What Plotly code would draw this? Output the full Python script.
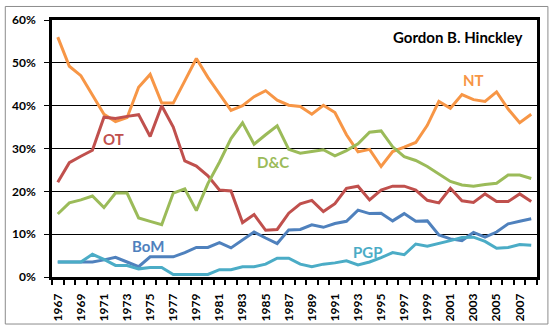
import plotly.graph_objects as go

years = list(range(1967, 2009))

nt = [56.0, 49.2, 47.0, 42.4, 38.0, 36.3, 37.2, 44.3, 47.3, 40.6, 40.6, 45.8, 51.0, 46.6,
      42.8, 38.9, 40.0, 42.1, 43.5, 41.3, 40.1, 39.8, 38.0, 40.1, 38.4, 33.2, 29.2, 29.8,
      25.8, 29.3, 30.3, 31.4, 35.4, 41.0, 39.4, 42.6, 41.4, 41.0, 43.2, 39.2, 36.0, 38.0]
ot = [22.1, 26.7, 28.2, 29.6, 37.3, 37.0, 37.5, 37.9, 32.8, 40.0, 35.0, 27.1, 25.9, 23.6,
      20.3, 20.1, 12.7, 14.6, 10.9, 11.1, 14.9, 17.1, 17.9, 15.3, 17.1, 20.7, 21.2, 18.0,
      20.3, 21.2, 21.2, 20.3, 17.9, 17.3, 20.7, 17.8, 17.4, 19.4, 17.6, 17.6, 19.4, 17.6]
dc = [14.7, 17.3, 18.0, 18.9, 16.2, 19.6, 19.6, 13.8, 13.0, 12.2, 19.6, 20.6, 15.5, 21.8,
      26.8, 32.3, 36.0, 31.0, 33.2, 35.3, 29.8, 28.9, 29.3, 29.7, 28.3, 29.5, 31.1, 33.8,
      34.1, 30.4, 28.1, 27.2, 25.8, 24.0, 22.3, 21.5, 21.2, 21.6, 21.9, 23.8, 23.8, 23.0]
bom = [3.5, 3.5, 3.5, 3.5, 4.0, 4.6, 3.5, 2.4, 4.7, 4.7, 4.7, 5.7, 6.9, 6.9,
       8.0, 6.8, 8.7, 10.5, 9.1, 7.8, 11.0, 11.1, 12.2, 11.6, 12.5, 13.0, 15.6, 14.8,
       14.9, 13.1, 14.8, 13.0, 13.1, 9.8, 8.9, 8.5, 10.4, 9.3, 10.5, 12.4, 13.0, 13.6]
pgp = [3.5, 3.5, 3.5, 5.3, 4.1, 2.7, 2.7, 1.9, 2.2, 2.2, 0.6, 0.6, 0.6, 0.6,
       1.7, 1.7, 2.4, 2.4, 3.0, 4.4, 4.4, 3.0, 2.4, 3.0, 3.3, 3.8, 2.8, 3.5,
       4.5, 5.7, 5.2, 7.7, 7.2, 7.8, 8.5, 9.2, 9.3, 8.3, 6.7, 6.9, 7.6, 7.4]

series = [
    ("NT", nt, "#F79646"),
    ("OT", ot, "#C0504D"),
    ("D&C", dc, "#9BBB59"),
    ("BoM", bom, "#4F81BD"),
    ("PGP", pgp, "#4BACC6"),
]
# label positions (x in years, y in %)
label_pos = {"NT": (2003.0, 45.9), "OT": (1971.8, 32.3), "D&C": (1985.6, 26.8),
             "BoM": (1974.8, 7.2), "PGP": (1993.8, 5.9)}

title_text = "Gordon B. Hinckley"
ytick_vals = [0, 10, 20, 30, 40, 50, 60]
xtick_years = years[::2]

FONT = "Lato"

fig = go.Figure()
for name, vals, color in series:
    fig.add_trace(go.Scatter(x=years, y=vals, mode="lines", name=name,
                             line=dict(color=color, width=3), showlegend=False,
                             hoverinfo="skip"))
    lx, ly = label_pos[name]
    fig.add_annotation(x=lx, y=ly, text=name, showarrow=False,
                       font=dict(family=FONT, size=15, color=color, weight="bold"),
                       xanchor="center", yanchor="middle")

fig.add_annotation(xref="paper", yref="paper", x=0.975, y=0.934, text=title_text,
                   showarrow=False, xanchor="right", yanchor="middle",
                   font=dict(family=FONT, size=15, color="black", weight="bold"))

# outer chart border
fig.add_shape(type="rect", xref="paper", yref="paper",
              x0=-0.0963, x1=1.0225, y0=-0.183, y1=1.0526,
              line=dict(color="#8c8c8c", width=1), layer="below")

fig.update_layout(
    width=553, height=333,
    margin=dict(l=49, r=16, t=16, b=51),
    paper_bgcolor="white", plot_bgcolor="white",
    font=dict(family=FONT, color="black"),
)

fig.update_xaxes(
    range=[years[0] - 0.5, years[-1] + 0.5],
    tickmode="array", tickvals=xtick_years, ticktext=[str(y) for y in xtick_years],
    tickangle=-90, ticks="", ticklabelstandoff=9,
    tickfont=dict(family=FONT, size=12, color="black", weight="bold"),
    minor=dict(tickmode="array", tickvals=[y - 0.5 for y in years] + [years[-1] + 0.5],
               ticks="outside", ticklen=5, tickwidth=1.5, tickcolor="black", showgrid=False),
    showgrid=False, zeroline=False,
    showline=True, linecolor="black", linewidth=2.5, mirror=True,
)
fig.update_yaxes(
    range=[0, 60], tickmode="array", tickvals=ytick_vals,
    ticktext=[f"{v}%" for v in ytick_vals],
    ticks="outside", ticklen=5, tickwidth=1, tickcolor="black", ticklabelstandoff=6,
    tickfont=dict(family=FONT, size=12, color="black", weight="bold"),
    showgrid=True, gridcolor="black", gridwidth=1, zeroline=False,
    showline=True, linecolor="black", linewidth=2.5, mirror=True,
)

fig.write_html("out.html")
